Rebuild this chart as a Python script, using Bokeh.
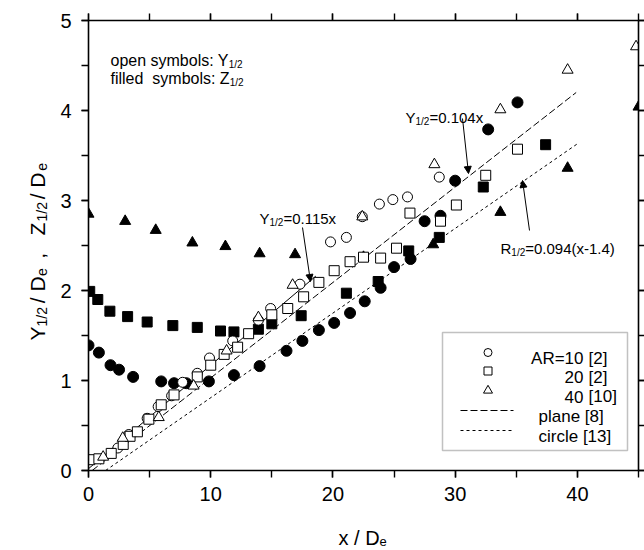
import math
from bokeh.plotting import figure
from bokeh.models import (Label, Arrow, NormalHead, LinearAxis, SingleIntervalTicker,
                          Range1d, BoxAnnotation)
from bokeh.embed import file_html
from bokeh.resources import INLINE

# ---------------- data ----------------
# AR=10 [2]  open: Y1/2  filled: Z1/2
ar10_y_x = [2.4, 3.3, 4.8, 5.7, 6.8, 7.7, 8.9, 9.9, 11.8, 13.9, 14.9, 17.3, 19.8, 21.1, 22.4, 23.8, 24.9, 26.1, 28.7]
ar10_y_v = [0.25, 0.40, 0.58, 0.71, 0.83, 0.98, 1.08, 1.25, 1.44, 1.67, 1.80, 2.07, 2.54, 2.59, 2.82, 2.96, 3.01, 3.04, 3.26]
ar10_z_x = [0.0, 0.85, 1.8, 2.5, 3.65, 5.95, 7.0, 8.0, 9.85, 11.9, 14.0, 16.2, 17.5, 18.85, 20.1, 21.4, 22.6, 23.9, 25.0, 26.35, 27.5, 28.8, 30.0, 32.7, 35.1]
ar10_z_v = [1.39, 1.31, 1.17, 1.12, 1.04, 0.99, 0.97, 0.97, 0.99, 1.06, 1.16, 1.33, 1.44, 1.56, 1.64, 1.75, 1.88, 2.03, 2.26, 2.35, 2.77, 2.83, 3.22, 3.79, 4.09]
# AR=20 [2]
ar20_y_x = [0.1, 0.85, 1.86, 2.84, 3.4, 4.0, 4.94, 5.95, 7.0, 8.9, 10.0, 11.1, 12.2, 13.1, 15.0, 16.3, 17.6, 18.85, 20.1, 21.4, 22.5, 23.9, 25.2, 26.3, 28.8, 30.1, 32.5, 35.1]
ar20_y_v = [0.12, 0.13, 0.19, 0.29, 0.38, 0.43, 0.57, 0.73, 0.84, 1.04, 1.17, 1.29, 1.37, 1.52, 1.73, 1.80, 1.93, 2.09, 2.22, 2.32, 2.37, 2.36, 2.47, 2.86, 2.77, 2.95, 3.28, 3.57]
ar20_z_x = [0.1, 0.76, 1.75, 3.2, 4.8, 6.9, 8.9, 10.8, 11.9, 13.9, 15.0, 17.4, 21.1, 23.7, 26.2, 28.7, 32.3, 37.4]
ar20_z_v = [1.99, 1.90, 1.77, 1.71, 1.65, 1.61, 1.59, 1.55, 1.54, 1.57, 1.63, 1.72, 1.97, 2.10, 2.44, 2.59, 3.15, 3.62]
# AR=40 [10]
ar40_y_x = [1.2, 2.8, 5.75, 8.6, 11.3, 13.9, 16.7, 22.4, 28.3, 33.7, 39.2, 44.8]
ar40_y_v = [0.15, 0.36, 0.59, 0.94, 1.33, 1.70, 2.06, 2.82, 3.40, 4.01, 4.45, 4.71]
ar40_z_x = [0.0, 3.0, 5.5, 8.5, 11.2, 14.0, 16.9, 22.5, 28.2, 33.7, 39.2, 45.0]
ar40_z_v = [2.85, 2.77, 2.67, 2.53, 2.49, 2.41, 2.40, 2.37, 2.51, 2.87, 3.36, 4.04]
# correlation lines
fit115_x = [0.0, 18.6]
fit115_y = [0.02, 2.16]
plane_x = [0.3, 39.9]
plane_y = [0.0, 4.2]
circle_x = [1.4, 40.0]
circle_y = [0.0, 3.63]

x_ticks_interval = 10
y_ticks_interval = 1
FONT = "Liberation Sans"
NB = "\u00a0"

# ---------------- figure ----------------
p = figure(frame_width=550, frame_height=450, x_range=Range1d(0, 45), y_range=Range1d(0, 5),
           output_backend="svg", toolbar_location=None,
           min_border_left=88, min_border_right=6, min_border_top=20, min_border_bottom=80)
p.xgrid.visible = False
p.ygrid.visible = False
p.outline_line_color = None
p.background_fill_color = "white"
p.border_fill_color = "white"

def style_axis(ax, labels=True):
    ax.axis_line_width = 1.6
    ax.axis_line_color = "black"
    ax.major_tick_line_width = 1.4
    ax.minor_tick_line_width = 1.4
    ax.major_tick_line_color = "black"
    ax.minor_tick_line_color = "black"
    ax.major_tick_in = 0
    ax.major_tick_out = 7
    ax.minor_tick_in = 0
    ax.minor_tick_out = 7
    if labels:
        ax.major_label_text_font_size = "20px"
        ax.major_label_text_font = FONT
        ax.major_label_text_color = "black"
    else:
        ax.major_label_text_font_size = "0px"
        ax.major_label_standoff = 0
        ax.major_label_text_color = None

p.xaxis.ticker = SingleIntervalTicker(interval=x_ticks_interval, num_minor_ticks=2)
p.yaxis.ticker = SingleIntervalTicker(interval=y_ticks_interval, num_minor_ticks=2)
style_axis(p.xaxis[0])
style_axis(p.yaxis[0])
p.xaxis.major_label_standoff = 9
p.yaxis.major_label_standoff = 10

top = LinearAxis(ticker=SingleIntervalTicker(interval=x_ticks_interval, num_minor_ticks=2))
right = LinearAxis(ticker=SingleIntervalTicker(interval=y_ticks_interval, num_minor_ticks=2))
style_axis(top, labels=False)
style_axis(right, labels=False)
p.add_layout(top, "above")
p.add_layout(right, "right")

# ---------------- screen(px) -> data helpers ----------------
X0, X1, Y0, Y1 = 88.0, 638.0, 470.0, 20.0
def dx(px):
    return (px - X0) / (X1 - X0) * 45.0
def dy(py):
    return (Y0 - py) / (Y0 - Y1) * 5.0

W = {' ': 278, NB: 278, '(': 333, ')': 333, ',': 278, '-': 333, '.': 278, '/': 278, ':': 278, '=': 584,
     '[': 278, ']': 278, 'A': 667, 'D': 722, 'R': 722, 'Y': 667, 'Z': 611,
     'a': 556, 'b': 556, 'c': 500, 'd': 556, 'e': 556, 'f': 278, 'i': 222, 'l': 222, 'm': 833,
     'n': 556, 'o': 556, 'p': 556, 'r': 333, 's': 500, 't': 278, 'x': 500, 'y': 500}
def tw(s, size):
    return sum(W.get(c, 556) for c in s) * size / 1000.0

def rich(x_px, y_px, pieces, angle=0.0):
    """Inside the frame: one Label per piece (data units)."""
    for text, size, shift in pieces:
        if angle == 0:
            X, Y = x_px, y_px + shift
        else:
            X, Y = x_px + shift, y_px
        p.add_layout(Label(text=text, text_font_size=f"{size}px", x=dx(X), y=dy(Y),
                           text_font=FONT, angle=angle, text_align="left",
                           text_baseline="alphabetic", text_color="black"))
        adv = tw(text, size)
        if angle == 0:
            x_px += adv
        else:
            y_px -= adv

def rich_side(x_px, y_px, pieces, main, sub, shift, angle, place):
    """Outside the frame: a main Label and one subscript Label (canvas units) in a side panel."""
    cur = 0.0
    main_txt = ""
    subs = []
    for text, is_sub in pieces:
        if not is_sub:
            main_txt += text
            cur += tw(text, main)
        else:
            subs.append((cur, text))
            n = max(1, round(tw(text, sub) / tw(NB, main)))
            main_txt += NB * n
            cur += n * tw(NB, main)
    start = subs[0][0]
    scur = start
    sub_txt = ""
    for off, t in subs:
        n = round((off - scur) / tw(NB, sub))
        sub_txt += NB * n
        scur += n * tw(NB, sub)
        sub_txt += t
        scur += tw(t, sub)
    if angle == 0:
        pos_main = (x_px, y_px)
        pos_sub = (x_px + start, y_px + shift)
    else:
        pos_main = (x_px, y_px)
        pos_sub = (x_px + shift, y_px - start)
    for txt, size, (X, Y) in [(main_txt, main, pos_main), (sub_txt, sub, pos_sub)]:
        p.add_layout(Label(text=txt, text_font_size=f"{size}px", x=X, y=Y,
                           x_units="canvas", y_units="canvas",
                           text_font=FONT, angle=angle, text_align="left",
                           text_baseline="alphabetic", text_color="black"), place)

# ---------------- lines ----------------
p.line(fit115_x, fit115_y, line_color="black", line_width=1)
p.line(plane_x, plane_y, line_color="black", line_width=1, line_dash="7 3")
p.line(circle_x, circle_y, line_color="black", line_width=1, line_dash="3 3")

# ---------------- markers ----------------
p.scatter(ar10_z_x, ar10_z_v, marker="circle", size=11, fill_color="black", line_color="black")
p.scatter(ar20_z_x, ar20_z_v, marker="square", size=10, fill_color="black", line_color="black")
p.scatter(ar40_z_x, ar40_z_v, marker="triangle", size=11, fill_color="black", line_color="black")
p.scatter(ar10_y_x, ar10_y_v, marker="circle", size=10, fill_color="white", line_color="black", line_width=1)
p.scatter(ar20_y_x, ar20_y_v, marker="square", size=10, fill_color="white", line_color="black", line_width=1)
p.scatter(ar40_y_x, ar40_y_v, marker="triangle", size=11, fill_color="white", line_color="black", line_width=1)

# ---------------- annotations ----------------
SUB = 10
rich(110, 60, [("open symbols: Y", 16, 0), ("1/2", SUB, 4)])
rich(110, 78, [("filled" + NB + NB + "symbols: Z", 16, 0), ("1/2", SUB, 4)])
rich(259, 218, [("Y", 15, 0), ("1/2", SUB, 4), ("=0.115x", 15, 0)])
rich(405, 117, [("Y", 15, 0), ("1/2", SUB, 4), ("=0.104x", 15, 0)])
rich(500, 248, [("R", 15, 0), ("1/2", SUB, 4), ("=0.094(x-1.4)", 15, 0)])

def arrow(x0, y0, x1, y1):
    p.add_layout(Arrow(end=NormalHead(size=7, fill_color="black", line_color="black"),
                       x_start=dx(x0), y_start=dy(y0), x_end=dx(x1), y_end=dy(y1),
                       line_color="black", line_width=1))
arrow(302, 227, 310, 281)
arrow(462, 118, 468, 173)
arrow(529, 230, 522, 180)

# axis labels
rich_side(338, 537, [("x" + NB + "/" + NB + "D", False), ("e", True)], 20, 13, 4, 0, "below")
rich_side(37, 340, [("Y", False), ("1/2", True), (NB + "/" + NB + "D", False), ("e", True),
                    (NB + NB + "," + NB + NB + NB + "Z", False), ("1/2", True),
                    (NB + "/" + NB + "D", False), ("e", True)], 21, 14, 4, math.pi / 2, "left")

# ---------------- legend ----------------
p.add_layout(BoxAnnotation(left=dx(442), right=dx(627), top=dy(332), bottom=dy(450),
                           fill_color=None, line_color="#333333", line_width=1.5))
leg_rows = [352, 370.5, 390, 410, 430]
leg_mx = [dx(487.5)]
p.scatter(leg_mx, [dy(leg_rows[0])], marker="circle", size=8, fill_color="white", line_color="black", level="overlay")
p.scatter(leg_mx, [dy(leg_rows[1])], marker="square", size=8, fill_color="white", line_color="black", level="overlay")
p.scatter(leg_mx, [dy(leg_rows[2])], marker="triangle", size=9, fill_color="white", line_color="black", level="overlay")
p.line([dx(460), dx(513)], [dy(leg_rows[3])] * 2, line_color="black", line_width=1, line_dash="7 3", level="overlay")
p.line([dx(460), dx(513)], [dy(leg_rows[4])] * 2, line_color="black", line_width=1, line_dash="3 3", level="overlay")

def ltext(x_px, y_px, text, align):
    p.add_layout(Label(x=dx(x_px), y=dy(y_px + 6), text=text, text_font_size="17px", text_font=FONT,
                       text_align=align, text_baseline="alphabetic", text_color="black"))
ltext(583, leg_rows[0], "AR=10", "right"); ltext(588, leg_rows[0], "[2]", "left")
ltext(583, leg_rows[1], "20", "right"); ltext(588, leg_rows[1], "[2]", "left")
ltext(583, leg_rows[2], "40", "right"); ltext(588, leg_rows[2], "[10]", "left")
ltext(538, leg_rows[3], "plane [8]", "left")
ltext(538, leg_rows[4], "circle [13]", "left")

open("out.html", "w").write(file_html(p, INLINE))
